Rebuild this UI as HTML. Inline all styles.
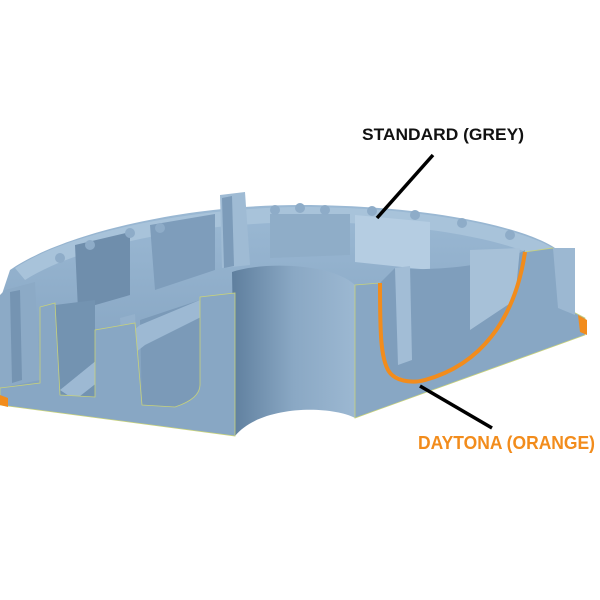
<!DOCTYPE html>
<html><head><style>
html,body{margin:0;padding:0;background:#fff;width:600px;height:600px;overflow:hidden}
svg{display:block}
</style></head><body>
<svg width="600" height="600" viewBox="0 0 600 600">
<defs>
<linearGradient id="hole" x1="0" x2="1" y1="0" y2="0">
<stop offset="0" stop-color="#5f7f9e"/><stop offset="0.5" stop-color="#8aa8c4"/><stop offset="1" stop-color="#9cb8d2"/>
</linearGradient>
<linearGradient id="inner" x1="0" x2="0" y1="0" y2="1">
<stop offset="0" stop-color="#9bb9d4"/><stop offset="1" stop-color="#7d9cba"/>
</linearGradient>
</defs>
<!-- back rim / interior -->
<path d="M10,270 C60,235 180,205 300,205 C420,205 520,225 555,248 L575,315 L355,300 L235,290 L235,430 L0,400 L0,300 Z" fill="url(#inner)"/>
<!-- back wall top band -->
<path d="M15,268 C70,232 190,208 300,207 C420,207 515,226 553,248 L548,262 C510,240 420,222 300,222 C190,224 80,245 25,280 Z" fill="#a8c3da"/>
<!-- back wall darker panels -->
<path d="M75,245 L130,232 L130,295 L78,310 Z" fill="#6f8eac"/>
<path d="M150,225 L215,214 L215,270 L155,290 Z" fill="#7e9dbb"/>
<path d="M270,214 L350,214 L350,255 L270,258 Z" fill="#8fadc8"/>
<path d="M355,215 L430,222 L430,270 L355,262 Z" fill="#b5cde2"/>
<!-- tall post -->
<path d="M220,195 L245,192 L250,265 L222,268 Z" fill="#9fbbd4"/>
<path d="M222,198 L232,196 L234,266 L224,268 Z" fill="#7c9bb9"/>
<!-- bumps along rim -->
<g fill="#8eacc8">
<circle cx="275" cy="210" r="5"/><circle cx="300" cy="208" r="5"/><circle cx="325" cy="210" r="5"/>
<circle cx="372" cy="211" r="5"/><circle cx="415" cy="215" r="5"/><circle cx="462" cy="223" r="5"/>
<circle cx="510" cy="235" r="5"/><circle cx="160" cy="228" r="5"/><circle cx="130" cy="233" r="5"/>
<circle cx="90" cy="245" r="5"/><circle cx="60" cy="258" r="5"/>
</g>
<!-- left outer columns -->
<path d="M5,290 L35,282 L40,380 L0,388 L0,295 Z" fill="#8caac6"/>
<path d="M10,292 L20,290 L22,380 L12,383 Z" fill="#7594b2"/>
<!-- slot interiors -->
<path d="M55,305 L95,300 L95,397 L60,395 Z" fill="#7393b1"/>
<path d="M140,320 L200,300 L200,385 C195,400 185,407 175,407 L142,405 Z" fill="#7b9ab8"/>
<!-- inner rib left slanted -->
<path d="M60,390 L140,325 L200,300 L205,315 L145,345 L75,400 Z" fill="#9db9d3"/>
<path d="M120,318 L135,314 L140,400 L125,402 Z" fill="#94b1cc"/>
<!-- cylinder hole -->
<path d="M232,272 C260,262 330,262 355,285 L355,418 C330,405 260,405 235,436 Z" fill="url(#hole)"/>
<!-- right inner curved bowl -->
<path d="M380,283 L395,268 C430,272 500,265 525,250 C520,320 470,370 420,382 C400,380 385,372 380,360 Z" fill="#7f9ebc"/>
<path d="M395,268 L410,266 L412,360 L398,365 Z" fill="#a2bdd6"/>
<path d="M470,250 L520,248 L515,300 L470,330 Z" fill="#a7c1d8"/>
<!-- front section face left -->
<path d="M0,388 L40,383 L40,307 L55,303 L60,395 L95,397 L95,330 L135,323 L142,405 L175,407 C190,402 200,395 200,385 L200,297 L235,293 L235,436 L0,405 Z" fill="#88a7c4" stroke="#c8d27a" stroke-width="0.8"/>
<!-- front right face -->
<path d="M355,285 L380,283 C380,330 380,365 392,375 C400,382 415,383 425,380 C480,365 515,320 525,252 L553,248 L558,262 L560,305 L585,318 L585,335 L355,418 Z" fill="#88a7c4" stroke="#c8d27a" stroke-width="0.8"/>
<path d="M553,248 L575,248 L575,315 L558,308 Z" fill="#9cb8d2"/>
<!-- orange daytona line -->
<path d="M380,283 C380,330 380,365 392,375 C400,382 415,383 425,380 C480,365 515,320 525,252" fill="none" stroke="#f28c1c" stroke-width="4"/>
<path d="M578,315 L587,320 L587,335 L580,332 Z" fill="#f28c1c"/>
<path d="M0,395 L8,398 L8,407 L0,405 Z" fill="#f28c1c"/>
<!-- leader lines -->
<line x1="433" y1="155" x2="377" y2="218" stroke="#000" stroke-width="3.5"/>
<line x1="420" y1="386" x2="492" y2="428" stroke="#000" stroke-width="3.5"/>
<text x="362" y="140" font-family="Liberation Sans, sans-serif" font-weight="bold" font-size="17" fill="#111" textLength="162" lengthAdjust="spacingAndGlyphs">STANDARD (GREY)</text>
<text x="418" y="449" font-family="Liberation Sans, sans-serif" font-weight="bold" font-size="18" fill="#f28c1c" textLength="177" lengthAdjust="spacingAndGlyphs">DAYTONA (ORANGE)</text>
</svg>
</body></html>
